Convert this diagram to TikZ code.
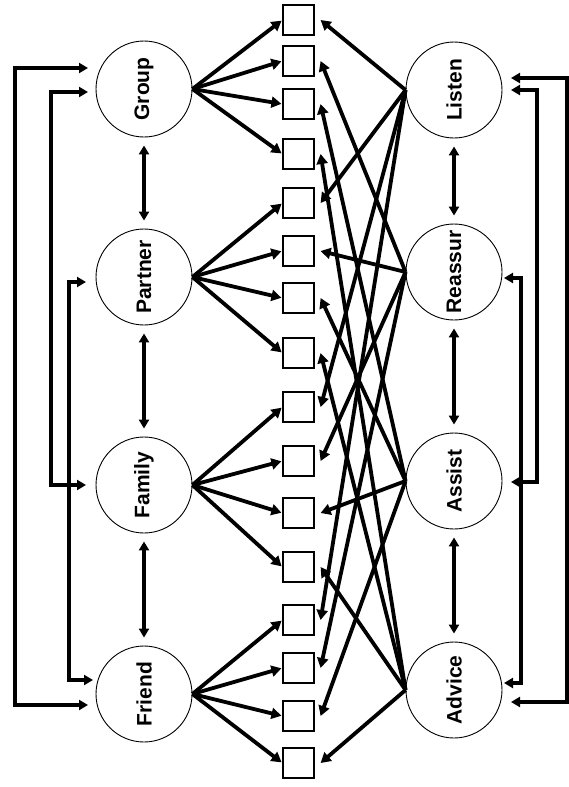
\documentclass[tikz,border=0pt]{standalone}
\usepackage{fontspec}
\setmainfont{Liberation Sans}
\usetikzlibrary{arrows.meta}
\begin{document}
\begin{tikzpicture}[x=1pt,y=-1pt,
  agent/.style={circle, draw, line width=0.9pt, minimum size=96pt, inner sep=0pt,
                font=\fontsize{21}{25}\selectfont\bfseries},
  slot/.style={draw, line width=1.2pt, minimum width=31pt, minimum height=30pt, inner sep=0pt},
  feed/.style={line width=3.8pt, -{Triangle[length=10pt,width=11pt]}},
  loopl/.style={line width=3.2pt, {Triangle[length=9pt,width=10pt]}-{Triangle[length=9pt,width=10pt]}},
  pair/.style={line width=3.2pt, {Triangle[length=9pt,width=10pt]}-{Triangle[length=9pt,width=10pt]},
               shorten <=8pt, shorten >=8pt}]
\fill[white] (0,0) rectangle (568,787);
\useasboundingbox (0,0) rectangle (568,787);

% sources on the left, responses on the right
\node[agent] (group)   at (144,89)  {\rotatebox{90}{Group}};
\node[agent] (partner) at (144,277) {\rotatebox{90}{Partner}};
\node[agent] (family)  at (144,485) {\rotatebox{90}{Family}};
\node[agent] (friend)  at (144,694) {\rotatebox{90}{Friend}};
\node[agent] (listen)  at (454,90)  {\rotatebox{90}{Listen}};
\node[agent] (reassur) at (454,272) {\rotatebox{90}{Reassur}};
\node[agent] (assist)  at (454,481) {\rotatebox{90}{Assist}};
\node[agent] (advice)  at (454,690) {\rotatebox{90}{Advice}};

% middle column of cells
\foreach \i/\y in {1/20,2/61,3/104,4/154,5/203,6/251,7/298,8/353,
                   9/407,10/461,11/513,12/567,13/620,14/668,15/716,16/763}
  \node[slot] (s\i) at (298.5,\y) {};

% each source feeds its own block of four cells
\foreach \src [count=\k from 0] in {group,partner,family,friend}
  \foreach \j in {1,...,4} {
    \pgfmathtruncatemacro\n{4*\k+\j}
    \draw[feed, shorten >=1pt] (\src.east) -- (s\n.west);
  }

% each response reaches one cell in every block
\foreach \src [count=\k] in {listen,reassur,assist,advice}
  \foreach \g in {0,...,3} {
    \pgfmathtruncatemacro\n{4*\g+\k}
    \draw[feed] (\src.west) -- ([xshift=6pt]s\n.east);
  }

% neighbours in each column
\draw[pair] (group.south)   -- (partner.north);
\draw[pair] (partner.south) -- (family.north);
\draw[pair] (family.south)  -- (friend.north);
\draw[pair] (listen.south)  -- (reassur.north);
\draw[pair] (reassur.south) -- (assist.north);
\draw[pair] (assist.south)  -- (advice.north);

% outer return paths
\coordinate (cL1) at (15,400);
\coordinate (cL2) at (51,300);
\coordinate (cL3) at (69,500);
\coordinate (cR1) at (567,400);
\coordinate (cR2) at (537,300);
\coordinate (cR3) at (521,500);

\draw[loopl] ([shift={(-56,-21)}]group.center) -| (cL1) |- ([shift={(-56,11)}]friend.center);
\draw[loopl] ([shift={(-56,3)}]group.center)   -| (cL2) |- ([shift={(-58,0)}]family.center);
\draw[loopl] ([shift={(-58,5)}]partner.center) -| (cL3) |- ([shift={(-51,-14)}]friend.center);

\draw[loopl] ([shift={(57,-12)}]listen.center) -| (cR1) |- ([shift={(57,12)}]advice.center);
\draw[loopl] ([shift={(57,0)}]listen.center)   -| (cR2) |- ([shift={(57,1)}]assist.center);
\draw[loopl] ([shift={(50,6)}]reassur.center)  -| (cR3) |- ([shift={(50,-7)}]advice.center);
\end{tikzpicture}
\end{document}
